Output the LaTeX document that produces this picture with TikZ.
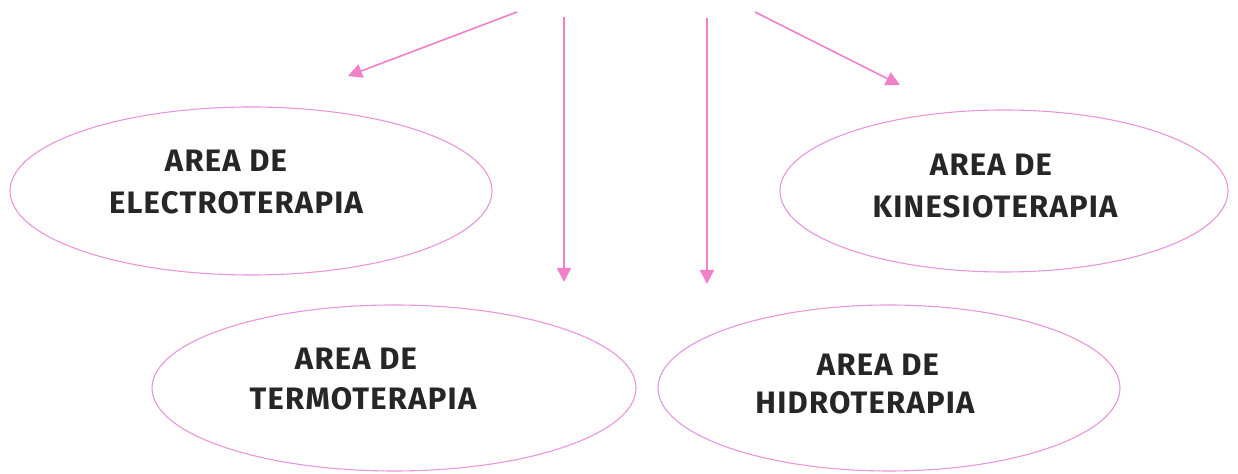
\documentclass[tikz,border=0pt]{standalone}
\usepackage{fontspec}
\setmainfont{Fira Sans}
\usetikzlibrary{shapes.geometric,arrows.meta}
\definecolor{ellpink}{RGB}{232,150,220}
\definecolor{arrpink}{RGB}{242,128,200}
\tikzset{
  area/.style={draw=ellpink,line width=0.55pt,ellipse,inner sep=0pt},
  lbl/.style={inner sep=0pt,font=\fontsize{15.5}{18}\selectfont\bfseries\addfontfeatures{LetterSpace=4},text=black!85},
  conn/.style={draw=arrpink,line width=0.8pt,-{Triangle[width=7pt,length=7pt]}}
}
\begin{document}
\begin{tikzpicture}[x=0.5pt,y=-0.5pt]
\useasboundingbox (0,0) rectangle (1238,474);
% ellipses
\node[area,minimum width=241pt,minimum height=84pt] (electro) at (251,191) {};
\node[area,minimum width=224pt,minimum height=81pt] (kine) at (1004,191) {};
\node[area,minimum width=242pt,minimum height=83pt] (termo) at (394,388) {};
\node[area,minimum width=231pt,minimum height=83pt] (hidro) at (889,388) {};
% labels
\node[lbl] (e1) at (226,161) {AREA DE};
\node[lbl] (e2) at (236,203) {ELECTROTERAPIA};
\node[lbl] (k1) at (991,165) {AREA DE};
\node[lbl] (k2) at (995,207) {KINESIOTERAPIA};
\node[lbl] (t1) at (356,359) {AREA DE};
\node[lbl] (t2) at (363,399) {TERMOTERAPIA};
\node[lbl] (h1) at (878,365) {AREA DE};
\node[lbl] (h2) at (865,403) {HIDROTERAPIA};
% connector ends
\coordinate (s1) at (517,12);
\coordinate (s2) at (564,17);
\coordinate (s3) at (707,18);
\coordinate (s4) at (755,12);
\coordinate (d1) at (348,76);
\coordinate (d2) at (564,282);
\coordinate (d3) at (707,284);
\coordinate (d4) at (900,85);
\draw[conn] (s1) -- (d1);
\draw[conn] (s2) -- (d2);
\draw[conn] (s3) -- (d3);
\draw[conn] (s4) -- (d4);
\end{tikzpicture}
\end{document}
